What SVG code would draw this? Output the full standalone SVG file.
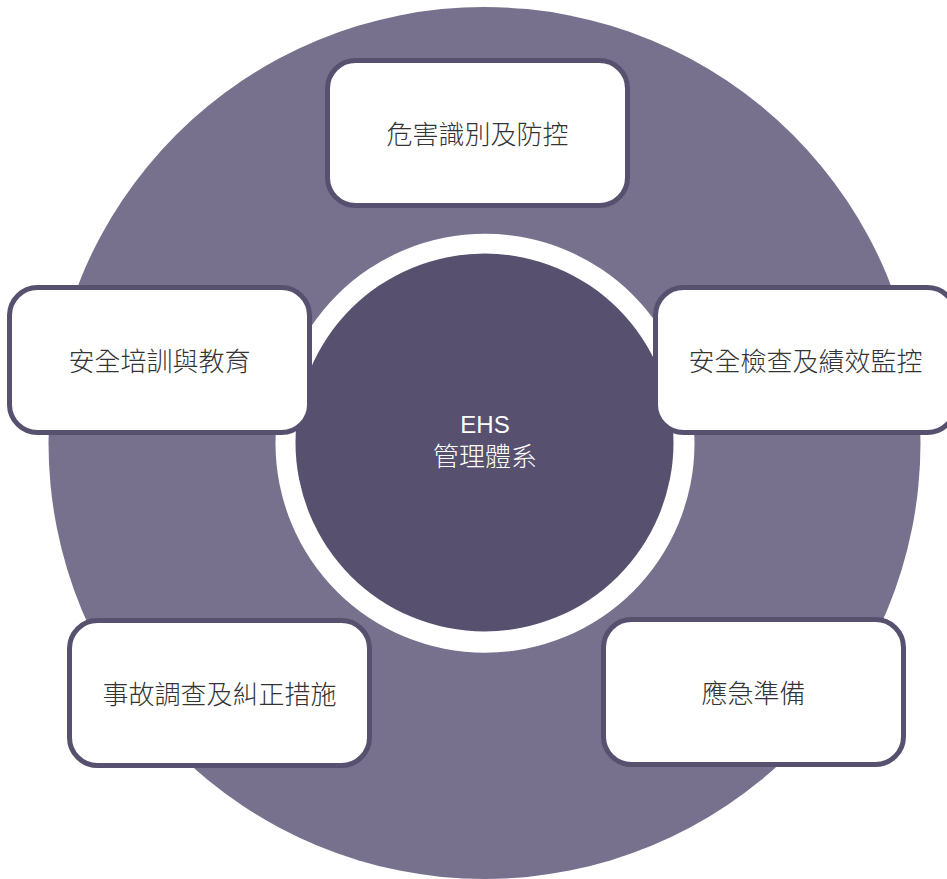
<svg xmlns="http://www.w3.org/2000/svg" width="947" height="879" viewBox="0 0 947 879">
<style>
.box{fill:#ffffff;stroke:#57506f;stroke-width:5}
.lbl{font-family:"Noto Sans CJK TC","Noto Sans CJK SC",sans-serif;font-size:26px;font-weight:300;fill:#333333;text-anchor:middle}
.ctr{font-family:"Liberation Sans","Noto Sans CJK TC",sans-serif;fill:#ffffff;text-anchor:middle}
</style>
<rect width="947" height="879" fill="#ffffff"/>
<g id="ring">
<circle cx="484.5" cy="443" r="436" fill="#77718e"/>
<circle cx="485" cy="443.3" r="209.5" fill="#ffffff"/>
</g>
<g id="center">
<circle cx="484.5" cy="442.5" r="189" fill="#57506f"/>
<text class="ctr" x="485" y="433" font-size="24">EHS</text>
<text class="ctr" x="485" y="466" font-size="26" font-family="Noto Sans CJK TC,sans-serif" font-weight="300">管理體系</text>
</g>
<g id="connectors"></g>
<g id="n1">
<rect class="box" x="327.5" y="60.5" width="300" height="145" rx="28"/>
<text class="lbl" x="477.5" y="144">危害識別及防控</text>
</g>
<g id="n2">
<rect class="box" x="655.5" y="287.5" width="300" height="145" rx="28"/>
<text class="lbl" x="805.5" y="371">安全檢查及績效監控</text>
</g>
<g id="n3">
<rect class="box" x="603.5" y="619.5" width="300" height="145" rx="28"/>
<text class="lbl" x="753.5" y="703">應急準備</text>
</g>
<g id="n4">
<rect class="box" x="69.5" y="620.5" width="300" height="145" rx="28"/>
<text class="lbl" x="219.5" y="704">事故調查及糾正措施</text>
</g>
<g id="n5">
<rect class="box" x="9.5" y="287.5" width="300" height="145" rx="28"/>
<text class="lbl" x="159.5" y="371">安全培訓與教育</text>
</g>
</svg>
